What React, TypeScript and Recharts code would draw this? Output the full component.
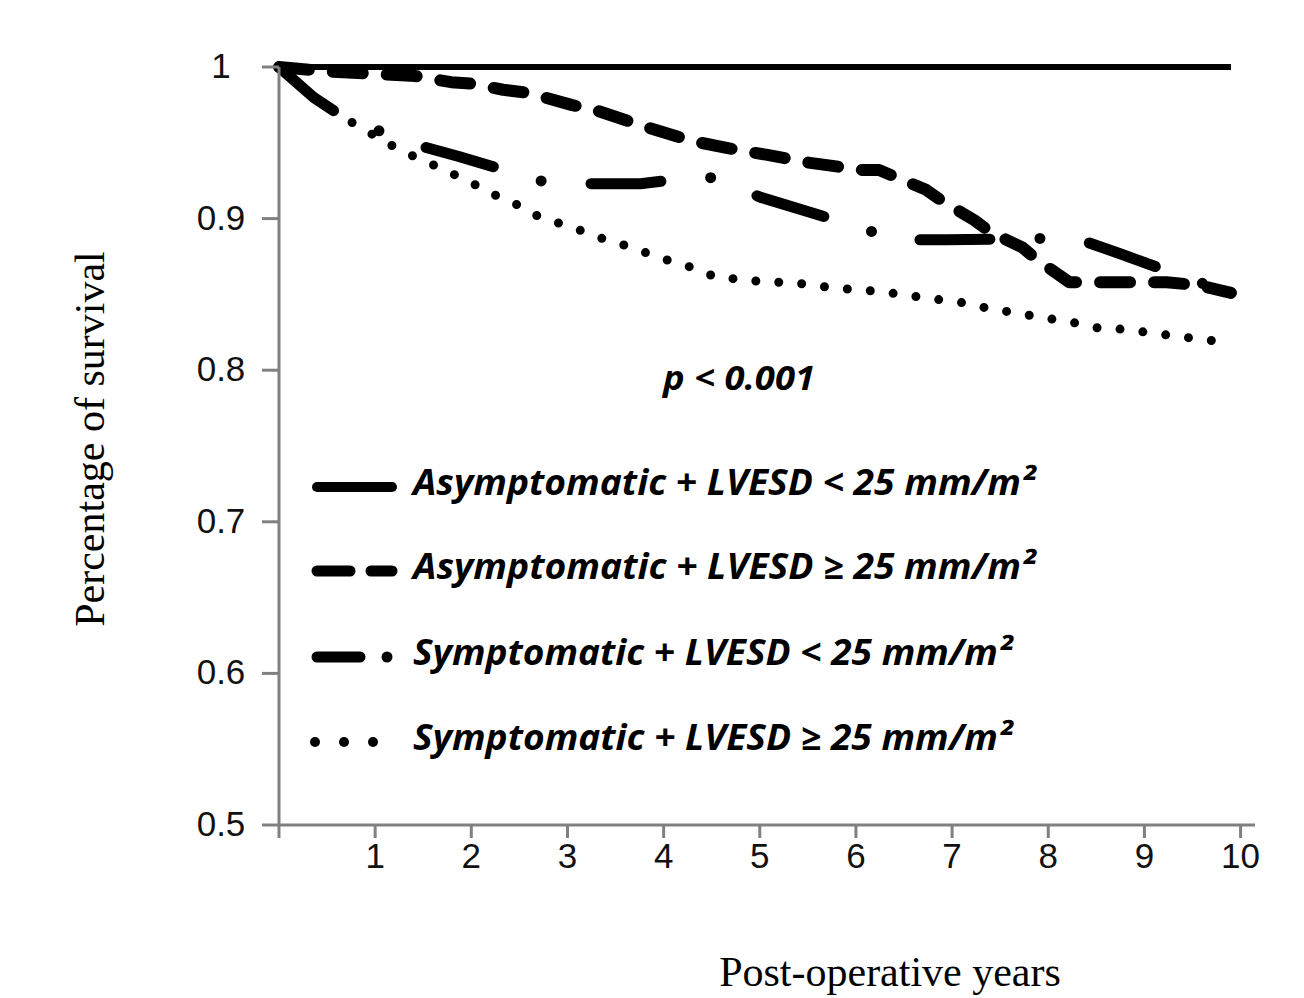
import React from 'react';
import { LineChart, Line, XAxis, YAxis, Legend, Label } from 'recharts';

// ---- data ----
const xTicks = [0, 1, 2, 3, 4, 5, 6, 7, 8, 9, 10];
const yTicks = [0.5, 0.6, 0.7, 0.8, 0.9, 1];

const seriesNames = [
  'Asymptomatic + LVESD < 25 mm/m²',
  'Asymptomatic + LVESD ≥ 25 mm/m²',
  'Symptomatic + LVESD < 25 mm/m²',
  'Symptomatic + LVESD ≥ 25 mm/m²',
];

const asymLowYears = [0, 9.9];
const asymLowSurv = [1, 1];

const asymHighYears = [0, 0.53, 1.42, 1.79, 2.0, 2.33, 2.59, 3.04, 3.27, 3.6, 3.84, 4.15, 4.39, 4.79, 5.08, 5.5, 6.07, 6.24, 6.73, 6.91, 7.23, 7.4, 7.73, 7.88, 8.22, 8.63, 9.23, 9.57, 9.9];
const asymHighSurv = [1, 0.997, 0.994, 0.99, 0.989, 0.985, 0.983, 0.975, 0.972, 0.965, 0.96, 0.954, 0.95, 0.945, 0.942, 0.937, 0.932, 0.932, 0.919, 0.911, 0.899, 0.891, 0.881, 0.873, 0.858, 0.858, 0.858, 0.856, 0.851];

const symLowYears = [0, 0.36, 0.69, 0.84, 1.35, 1.87, 2.4, 2.68, 3.22, 3.76, 4.28, 4.53, 5.01, 5.53, 6.06, 6.39, 6.95, 8.04, 8.33, 8.74, 9.26, 9.57, 9.9];
const symLowSurv = [1, 0.98, 0.966, 0.963, 0.95, 0.941, 0.931, 0.925, 0.923, 0.923, 0.927, 0.927, 0.914, 0.904, 0.894, 0.886, 0.886, 0.887, 0.886, 0.877, 0.865, 0.858, 0.851];

const symHighYears = [0, 0.36, 0.69, 1.12, 1.33, 1.55, 1.79, 2.02, 2.23, 2.45, 2.71, 2.96, 3.19, 3.44, 3.68, 3.91, 4.13, 4.38, 4.55, 4.82, 5.06, 5.31, 5.56, 5.79, 6.06, 6.35, 6.69, 6.93, 7.17, 7.42, 7.66, 7.9, 8.22, 8.51, 8.78, 9.02, 9.26, 9.52, 9.77, 9.88];
const symHighSurv = [1, 0.98, 0.966, 0.95, 0.943, 0.937, 0.93, 0.923, 0.916, 0.91, 0.901, 0.896, 0.891, 0.885, 0.881, 0.875, 0.871, 0.866, 0.861, 0.86, 0.858, 0.858, 0.856, 0.854, 0.853, 0.851, 0.848, 0.846, 0.844, 0.84, 0.838, 0.835, 0.832, 0.828, 0.827, 0.825, 0.823, 0.821, 0.819, 0.817];

const pValueText = 'p < 0.001';
const xTitle = 'Post-operative years';
const yTitle = 'Percentage of survival';

const toPoints = (xs: number[], ys: number[]) => xs.map((x, i) => ({ x, y: ys[i] }));

const asymLow = toPoints(asymLowYears, asymLowSurv);
const asymHigh = toPoints(asymHighYears, asymHighSurv);
const symLow = toPoints(symLowYears, symLowSurv);
const symHigh = toPoints(symHighYears, symHighSurv);

// ---- styles ----
const AXIS_GRAY = '#808080';
const TICK_FONT = '"Liberation Sans", Arial, sans-serif';
const LEGEND_FONT = '"Open Sans", sans-serif';
const SERIF = '"Liberation Serif", "Times New Roman", serif';

const legendRows = [487, 571, 657, 742];
const legendTextLen = [622, 622, 599, 599];

const LegendSample = ({ index, row }: { index: number; row: number }) => {
  if (index === 0) {
    return <line x1={317} x2={392} y1={row} y2={row} stroke="#000" strokeWidth={10} strokeLinecap="round" />;
  }
  if (index === 1) {
    return (
      <g>
        <line x1={317} x2={350} y1={row} y2={row} stroke="#000" strokeWidth={11} strokeLinecap="round" />
        <line x1={371} x2={392} y1={row} y2={row} stroke="#000" strokeWidth={11} strokeLinecap="round" />
      </g>
    );
  }
  if (index === 2) {
    return (
      <g>
        <line x1={317} x2={360} y1={row} y2={row} stroke="#000" strokeWidth={11} strokeLinecap="round" />
        <circle cx={387} cy={row} r={5.5} fill="#000" />
      </g>
    );
  }
  return (
    <g>
      <circle cx={315} cy={row} r={5} fill="#000" />
      <circle cx={344} cy={row} r={5} fill="#000" />
      <circle cx={373} cy={row} r={5} fill="#000" />
    </g>
  );
};

const XTick = (props: any) => {
  const { x, y, payload } = props;
  if (payload.value === 0) return null;
  return (
    <text x={x} y={y + 28} textAnchor="middle" fontFamily={TICK_FONT} fontSize={35} fill="#111">
      {payload.value}
    </text>
  );
};

const YTick = (props: any) => {
  const { x, y, payload } = props;
  const v = payload.value;
  return (
    <text x={x - 39} y={y + 11} textAnchor="middle" fontFamily={TICK_FONT} fontSize={35} fill="#111">
      {v === 1 ? '1' : v.toFixed(1)}
    </text>
  );
};

const renderLegend = (props: any) => {
  const payload = props.payload || [];
  return (
    <svg width={1304} height={998} style={{ display: 'block' }}>
      <text
        x={663}
        y={390}
        fontFamily={LEGEND_FONT}
        fontStyle="italic"
        fontWeight={700}
        fontSize={34}
        textLength={152}
        lengthAdjust="spacingAndGlyphs"
        fill="#000"
      >
        {pValueText}
      </text>
      {payload.map((item: any, i: number) => {
        const row = legendRows[i];
        return (
          <g key={i}>
            <LegendSample index={i} row={row} />
            <text
              x={413}
              y={row + 8}
              fontFamily={LEGEND_FONT}
              fontStyle="italic"
              fontWeight={700}
              fontSize={35}
              textLength={legendTextLen[i]}
              lengthAdjust="spacingAndGlyphs"
              fill="#000"
            >
              {item.value}
            </text>
          </g>
        );
      })}
    </svg>
  );
};

const YTitle = (props: any) => {
  const vb = props.viewBox || { x: 0, y: 0, width: 0, height: 0 };
  const cx = 104;
  const cy = vb.y + vb.height / 2 - 7;
  return (
    <text
      x={cx}
      y={cy}
      transform={`rotate(-90 ${cx} ${cy})`}
      textAnchor="middle"
      fontFamily={SERIF}
      fontSize={42}
      fill="#000"
    >
      {yTitle}
    </text>
  );
};

const XTitle = (props: any) => {
  const vb = props.viewBox || { x: 0, y: 0, width: 0, height: 0 };
  return (
    <text x={890} y={vb.y + 161} textAnchor="middle" fontFamily={SERIF} fontSize={42} fill="#000">
      {xTitle}
    </text>
  );
};

export default function App() {
  return (
    <div style={{ position: 'absolute', left: 0, top: 0, width: 1304, height: 998, background: '#fff' }}>
      <LineChart width={1304} height={998} margin={{ top: 67, right: 49, left: 219, bottom: 113 }}>
        <XAxis
          type="number"
          dataKey="x"
          domain={[0, 10.15]}
          ticks={xTicks}
          height={60}
          tickSize={13}
          axisLine={{ stroke: AXIS_GRAY, strokeWidth: 3 }}
          tickLine={{ stroke: AXIS_GRAY, strokeWidth: 3 }}
          tick={<XTick />}
        >
          <Label content={<XTitle />} />
        </XAxis>
        <YAxis
          type="number"
          domain={[0.5, 1]}
          ticks={yTicks}
          width={60}
          tickSize={17}
          axisLine={{ stroke: AXIS_GRAY, strokeWidth: 3 }}
          tickLine={{ stroke: AXIS_GRAY, strokeWidth: 3 }}
          tick={<YTick />}
        >
          <Label content={<YTitle />} />
        </YAxis>
        <Legend
          layout="horizontal"
          verticalAlign="middle"
          align="center"
          content={renderLegend}
          wrapperStyle={{ position: 'absolute', left: 0, top: 0, width: 1304, height: 998, pointerEvents: 'none' }}
        />
        <Line
          data={asymLow}
          dataKey="y"
          name={seriesNames[0]}
          type="linear"
          stroke="#000"
          strokeWidth={6}
          dot={false}
          isAnimationActive={false}
        />
        <Line
          data={asymHigh}
          dataKey="y"
          name={seriesNames[1]}
          type="linear"
          stroke="#000"
          strokeWidth={12}
          strokeDasharray="30 24"
          strokeLinecap="round"
          strokeLinejoin="round"
          dot={false}
          isAnimationActive={false}
        />
        <Line
          data={symLow}
          dataKey="y"
          name={seriesNames[2]}
          type="linear"
          stroke="#000"
          strokeWidth={11}
          strokeDasharray="70 50 0 50"
          strokeLinecap="round"
          strokeLinejoin="round"
          dot={false}
          isAnimationActive={false}
        />
        <Line
          data={symHigh}
          dataKey="y"
          name={seriesNames[3]}
          type="linear"
          stroke="#000"
          strokeWidth={9}
          strokeDasharray="0 23"
          strokeLinecap="round"
          dot={false}
          isAnimationActive={false}
        />
      </LineChart>
    </div>
  );
}
